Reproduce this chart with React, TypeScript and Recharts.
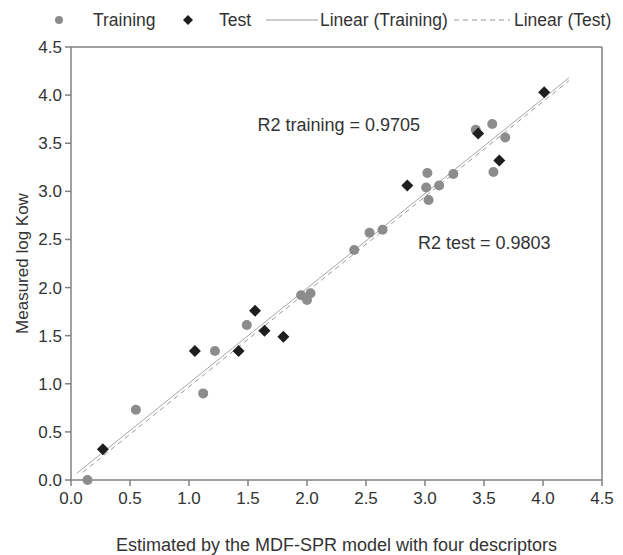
import React from 'react';
import {
  ScatterChart, Scatter, XAxis, YAxis, Legend, ReferenceLine, ReferenceDot
} from 'recharts';

// values
const trainX = [0.14, 0.55, 1.12, 1.22, 1.49, 1.95, 2.03, 2.0, 2.4, 2.53, 2.64, 3.01, 3.02, 3.03, 3.12, 3.24, 3.43, 3.57, 3.58, 3.68];
const trainY = [0.0, 0.73, 0.9, 1.34, 1.61, 1.92, 1.94, 1.87, 2.39, 2.57, 2.6, 3.04, 3.19, 2.91, 3.06, 3.18, 3.64, 3.7, 3.2, 3.56];
const testX = [0.27, 1.05, 1.42, 1.56, 1.64, 1.8, 2.85, 3.45, 3.63, 4.01];
const testY = [0.32, 1.34, 1.34, 1.76, 1.55, 1.49, 3.06, 3.6, 3.32, 4.03];
const trainLine = [{ x: 0.05, y: 0.07 }, { x: 4.22, y: 4.18 }];
const testLine = [{ x: 0.1, y: 0.08 }, { x: 4.22, y: 4.15 }];
const ticks = [0, 0.5, 1, 1.5, 2, 2.5, 3, 3.5, 4, 4.5];
const r2Training = 'R2 training = 0.9705';
const r2Test = 'R2 test = 0.9803';

const training = trainX.map((x, i) => ({ x, y: trainY[i] }));
const test = testX.map((x, i) => ({ x, y: testY[i] }));

const FONT = '"Liberation Sans", Arial, sans-serif';
const TXT = '#333';
const AXIS = '#808080';

const Dot = (p: any) => <circle cx={p.cx} cy={p.cy} r={5} fill="#8c8c8c" />;
const Diamond = (p: any) => {
  const s = 6;
  return <path d={`M${p.cx},${p.cy - s}L${p.cx + s},${p.cy}L${p.cx},${p.cy + s}L${p.cx - s},${p.cy}Z`} fill="#1e1e1e" />;
};

const LegendBox = () => (
  <svg width={623} height={30} style={{ display: 'block', fontFamily: FONT }}>
    <circle cx={51} cy={12} r={4} fill="#8c8c8c" />
    <text x={85} y={12} fontSize={17.5} fill={TXT} dominantBaseline="central">Training</text>
    <path d="M180,7L185,12L180,17L175,12Z" fill="#1e1e1e" />
    <text x={211} y={12} fontSize={17.5} fill={TXT} dominantBaseline="central">Test</text>
    <line x1={258} y1={12} x2={310} y2={12} stroke="#999" strokeWidth={1} />
    <text x={312} y={12} fontSize={17.5} fill={TXT} dominantBaseline="central">Linear (Training)</text>
    <line x1={446} y1={12} x2={502} y2={12} stroke="#999" strokeWidth={1} strokeDasharray="5 4" />
    <text x={506} y={12} fontSize={17.5} fill={TXT} dominantBaseline="central">Linear (Test)</text>
  </svg>
);

const fmt = (v: number) => v.toFixed(1);

export default function App() {
  return (
    <ScatterChart width={623} height={547} margin={{ top: 9, right: 29, left: 0, bottom: 0 }}
      style={{ fontFamily: FONT }}>
      <Legend verticalAlign="top" content={<LegendBox />} wrapperStyle={{ top: 0, left: 0 }} />
      <XAxis type="number" dataKey="x" domain={[0, 4.5]} ticks={ticks} tickFormatter={fmt}
        height={75} tickSize={6} tickMargin={6} stroke={AXIS} strokeWidth={1.5}
        tick={{ fill: TXT, fontSize: 17 }}
        label={{ value: 'Estimated by the MDF-SPR model with four descriptors', position: 'insideBottom', offset: 4, fill: TXT, fontSize: 18 }} />
      <YAxis type="number" dataKey="y" domain={[0, 4.5]} ticks={ticks} tickFormatter={fmt}
        width={63} tickSize={6} tickMargin={3} stroke={AXIS} strokeWidth={1.5}
        tick={{ fill: TXT, fontSize: 17 }}
        label={{ value: 'Measured log Kow', angle: -90, position: 'insideLeft', offset: 14, fill: TXT, fontSize: 17, style: { textAnchor: 'middle' } }} />
      <ReferenceLine y={4.5} stroke={AXIS} strokeWidth={1.5} />
      <ReferenceLine x={4.5} stroke={AXIS} strokeWidth={1.5} />
      <ReferenceLine segment={trainLine} stroke="#a6a6a6" strokeWidth={1} />
      <ReferenceLine segment={testLine} stroke="#999" strokeWidth={1} strokeDasharray="5 4" />
      <Scatter name="Training" data={training} shape={<Dot />} isAnimationActive={false} />
      <Scatter name="Test" data={test} shape={<Diamond />} isAnimationActive={false} />
      <ReferenceDot x={1.58} y={3.69} r={0} stroke="none" fill="none"
        label={{ value: r2Training, position: 'right', offset: 0, fill: TXT, fontSize: 18 }} />
      <ReferenceDot x={2.94} y={2.47} r={0} stroke="none" fill="none"
        label={{ value: r2Test, position: 'right', offset: 0, fill: TXT, fontSize: 18 }} />
    </ScatterChart>
  );
}
